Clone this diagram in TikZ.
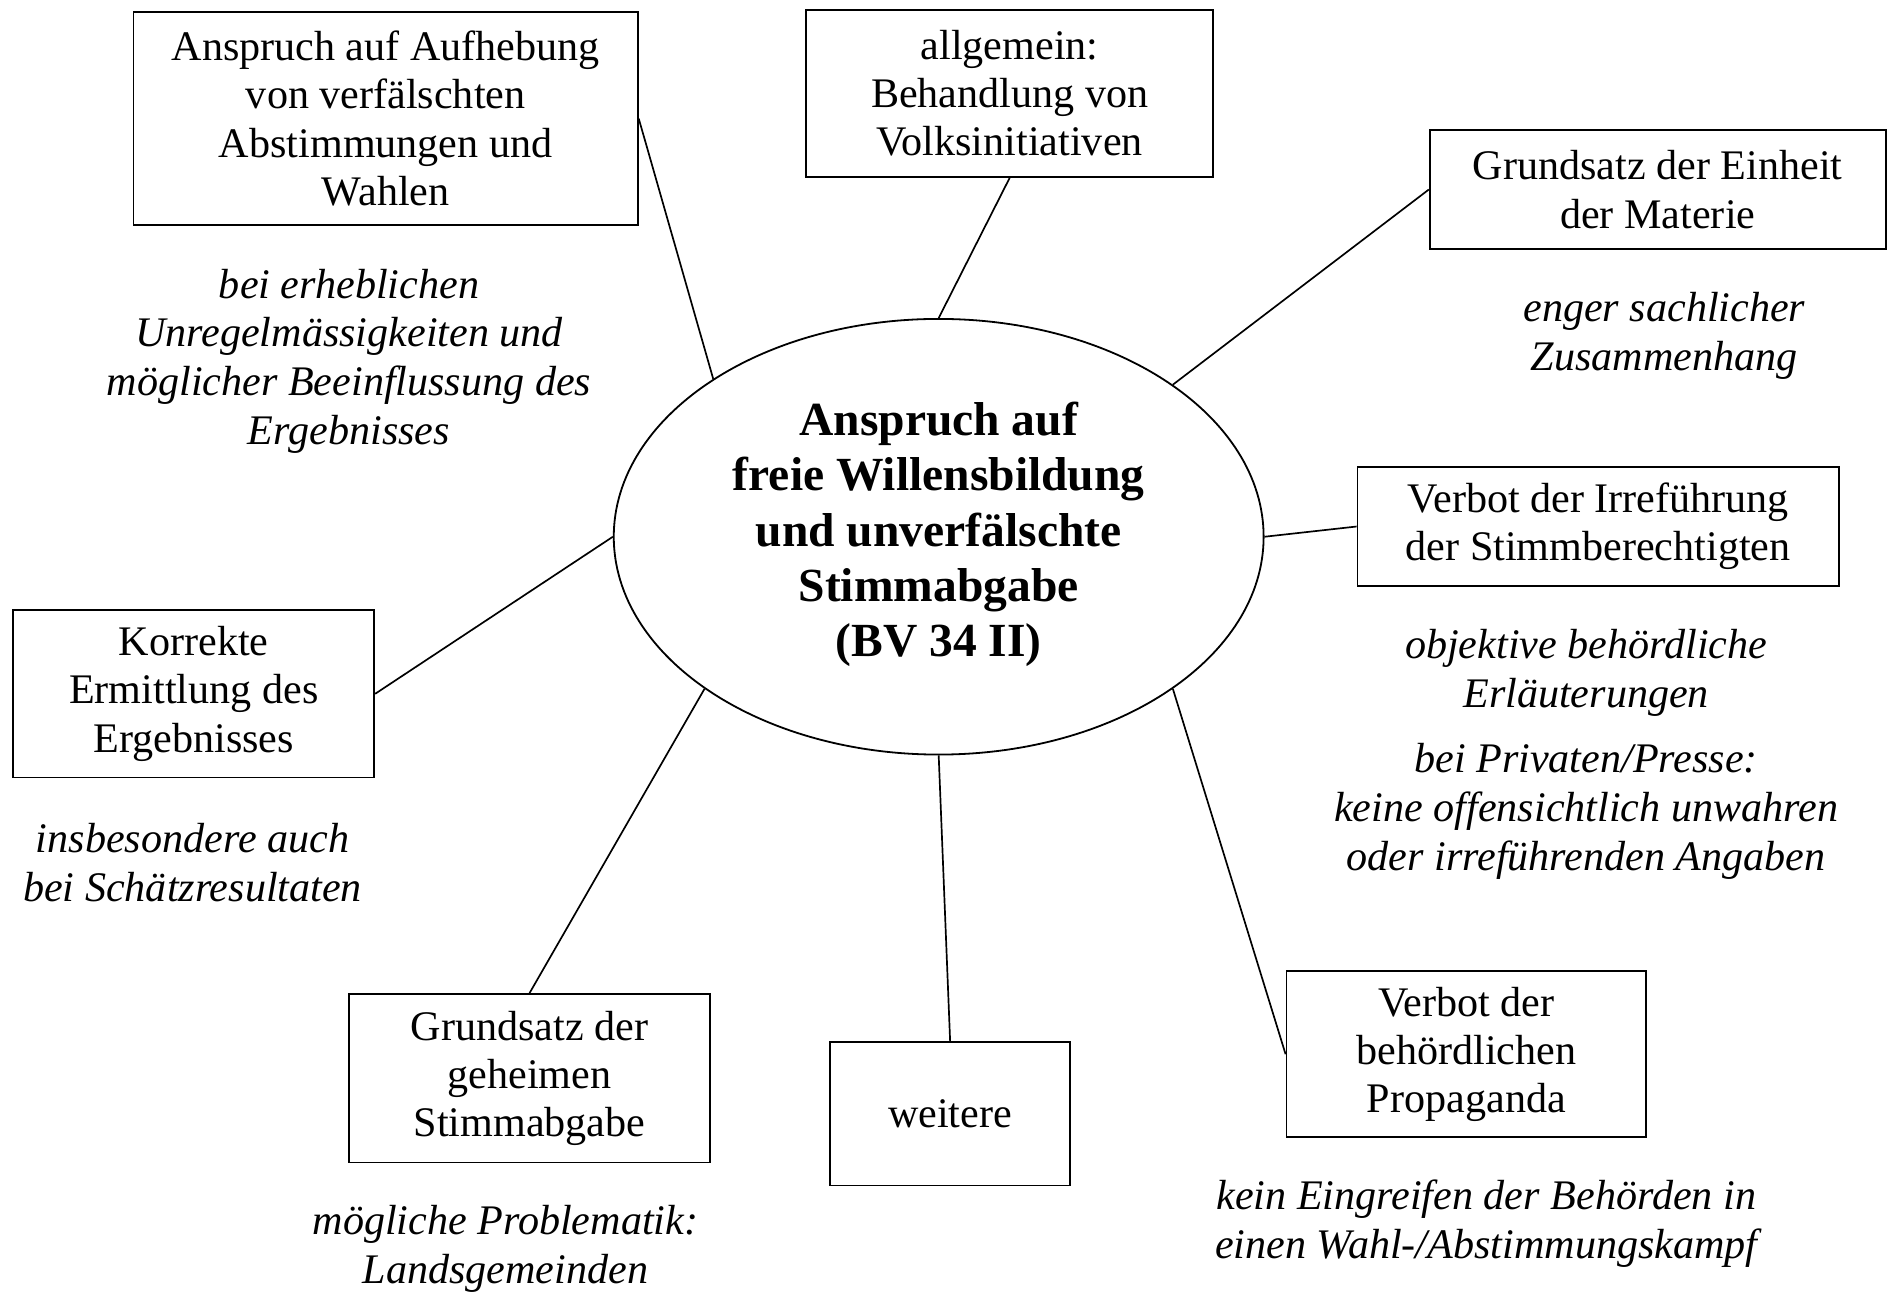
\documentclass[tikz,border=0pt]{standalone}
\usepackage{fontspec}
\setmainfont{Liberation Serif}
\usetikzlibrary{shapes.geometric}
\begin{document}
\begin{tikzpicture}[x=1pt,y=-1pt,
  box/.style={draw,line width=1.5pt,rectangle,inner sep=0pt,align=center,
    font=\fontsize{35}{40}\selectfont},
  note/.style={align=center,inner sep=0pt,font=\fontsize{35}{40.5}\selectfont\itshape},
  link/.style={line width=1.4pt}]
\useasboundingbox (0,0) rectangle (1568,1074);
\node[draw,ellipse,line width=1.5pt,minimum width=540pt,minimum height=362pt,inner sep=0pt] (e) at (780,446) {};
\node[align=center,font=\fontsize{39.5}{46}\selectfont\bfseries] (et) at (780,444)
  {Anspruch auf\\freie Willensbildung\\und unverfälschte\\Stimmabgabe\\(BV 34 II)};
\node[box,minimum width=419pt,minimum height=177pt] (b1) at (320.5,98.5)
  {Anspruch auf Aufhebung\\von verfälschten\\Abstimmungen und\\Wahlen};
\node[box,minimum width=338pt,minimum height=139pt] (b2) at (839,77.5)
  {allgemein:\\Behandlung von\\Volksinitiativen};
\node[box,minimum width=379pt,minimum height=99pt] (b3) at (1377.5,157.5)
  {Grundsatz der Einheit\\der Materie};
\node[box,minimum width=400pt,minimum height=99pt] (b4) at (1328,437.5)
  {Verbot der Irreführung\\der Stimmberechtigten};
\node[box,minimum width=299pt,minimum height=138pt] (b5) at (1218.5,876)
  {Verbot der\\behördlichen\\Propaganda};
\node[box,minimum width=199pt,minimum height=119pt] (b6) at (789.5,925.5)
  {weitere};
\node[box,minimum width=300pt,minimum height=140pt] (b7) at (440,896)
  {Grundsatz der\\geheimen\\Stimmabgabe};
\node[box,minimum width=300pt,minimum height=139pt] (b8) at (161,576.5)
  {Korrekte\\Ermittlung des\\Ergebnisses};
\node[note] (a1) at (290,300)
  {bei erheblichen\\Unregelmässigkeiten und\\möglicher Beeinflussung des\\Ergebnisses};
\node[note] (a3) at (1383,279) {enger sachlicher\\Zusammenhang};
\node[note] (a4) at (1318,559) {objektive behördliche\\Erläuterungen};
\node[note] (a5) at (1318,674) {bei Privaten/Presse:\\keine offensichtlich unwahren\\oder irreführenden Angaben};
\node[note] (a6) at (1235,1017) {kein Eingreifen der Behörden in\\einen Wahl-/Abstimmungskampf};
\node[note] (a7) at (420,1038) {mögliche Problematik:\\Landsgemeinden};
\node[note] (a8) at (160,717) {insbesondere auch\\bei Schätzresultaten};
\draw[link] (b1.east) -- (e.145.7);
\draw[link] (b2.south) -- (e.90);
\draw[link] (b3.west) -- (e.33.7);
\draw[link] (b4.west) -- (e.0);
\draw[link] (b5.west) -- (e.-33.9);
\draw[link] (b6.north) -- (e.-90);
\draw[link] (b7.north) -- (e.213.9);
\draw[link] (b8.east) -- (e.180);
\end{tikzpicture}
\end{document}
